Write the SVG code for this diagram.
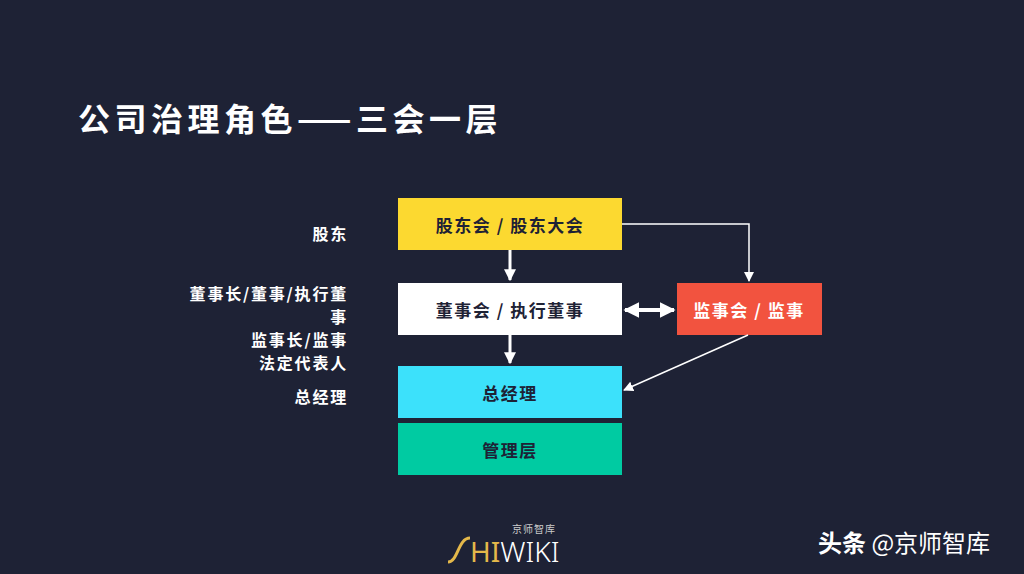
<svg xmlns="http://www.w3.org/2000/svg" width="1024" height="574" viewBox="0 0 1024 574">
<defs>
<style>
text{font-family:"Noto Sans CJK SC","Noto Sans",sans-serif;font-weight:bold}
.bt{font-size:17px;text-anchor:middle;fill:#1e2235;letter-spacing:1.5px}
.lt{font-size:16px;text-anchor:end;fill:#fff;letter-spacing:1.8px}
.c{stroke:#fff;fill:none}
</style>
<marker id="ah" viewBox="0 0 10 10" refX="9" refY="5" markerWidth="4" markerHeight="4" orient="auto-start-reverse" markerUnits="strokeWidth"><path d="M0,0L10,5L0,10z" fill="#fff"/></marker>
<marker id="as" viewBox="0 0 10 10" refX="9" refY="5" markerWidth="10" markerHeight="10" orient="auto" markerUnits="userSpaceOnUse"><path d="M0,0L10,5L0,10z" fill="#fff"/></marker>
</defs>
<rect width="1024" height="574" fill="#1e2235"/>
<text x="78" y="131" font-size="32" fill="#fff" letter-spacing="4.5">公司治理角色——三会一层</text>
<g id="labels">
<text class="lt" x="348" y="240">股东</text>
<text class="lt" x="348" y="300">董事长/董事/执行董</text>
<text class="lt" x="348" y="323">事</text>
<text class="lt" x="348" y="346">监事长/监事</text>
<text class="lt" x="348" y="369">法定代表人</text>
<text class="lt" x="348" y="403">总经理</text>
</g>
<g id="n1"><rect x="398" y="198" width="224" height="52" fill="#fcd930"/><text class="bt" x="510" y="232">股东会 / 股东大会</text></g>
<g id="n2"><rect x="398" y="283" width="224" height="52" fill="#fff"/><text class="bt" x="510" y="317">董事会 / 执行董事</text></g>
<g id="n3"><rect x="677" y="283" width="145" height="52" fill="#f2533f"/><text class="bt" x="749" y="317" style="fill:#fff">监事会 / 监事</text></g>
<g id="n4"><rect x="398" y="366" width="224" height="52" fill="#3ce1fb"/><text class="bt" x="510" y="400">总经理</text></g>
<g id="n5"><rect x="398" y="423" width="224" height="52" fill="#00cba2"/><text class="bt" x="510" y="457">管理层</text></g>
<g id="connectors">
<path class="c" stroke-width="3" d="M510,250V280" marker-end="url(#ah)"/>
<path class="c" stroke-width="3" d="M510,335V363" marker-end="url(#ah)"/>
<path class="c" stroke-width="4" d="M625,310H674" marker-start="url(#ah)" marker-end="url(#ah)"/>
<path class="c" stroke-width="1.5" d="M622,224H749V281" marker-end="url(#as)"/>
<path class="c" stroke-width="1.5" d="M748,335L624,390" marker-end="url(#as)"/>
</g>
<g id="logo">
<path d="M448,562C458,562 458,538 470,538" stroke="#e4b84a" stroke-width="3" fill="none"/>
<text x="470" y="562" font-size="28" fill="#e4b84a" style="font-weight:normal;font-family:'Noto Sans',sans-serif">HI<tspan fill="#fff" style="font-weight:300">WIKI</tspan></text>
<text x="512" y="533" font-size="10" fill="#ccc" style="font-weight:normal" letter-spacing="1">京师智库</text>
</g>
<text x="818" y="552" font-size="24" fill="#fff">头条<tspan style="font-weight:normal"> @京师智库</tspan></text>
</svg>
